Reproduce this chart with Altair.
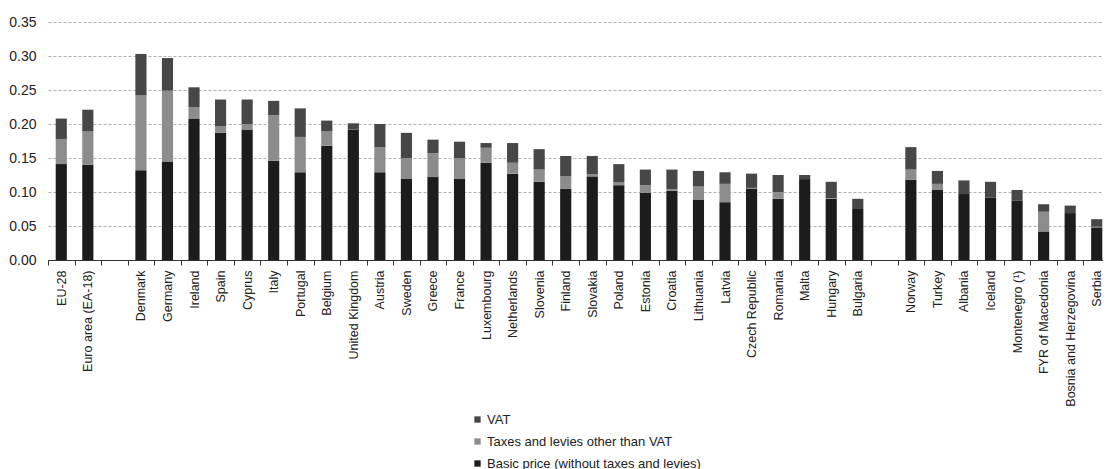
import altair as alt
import pandas as pd

countries = ["EU-28", "Euro area (EA-18)", " ",
             "Denmark", "Germany", "Ireland", "Spain", "Cyprus", "Italy", "Portugal",
             "Belgium", "United Kingdom", "Austria", "Sweden", "Greece", "France",
             "Luxembourg", "Netherlands", "Slovenia", "Finland", "Slovakia", "Poland",
             "Estonia", "Croatia", "Lithuania", "Latvia", "Czech Republic", "Romania",
             "Malta", "Hungary", "Bulgaria", "  ",
             "Norway", "Turkey", "Albania", "Iceland", "Montenegro (¹)",
             "FYR of Macedonia", "Bosnia and Herzegovina", "Serbia"]

# None = empty gap slot
basic = [0.141, 0.140, None,
         0.132, 0.144, 0.208, 0.187, 0.192, 0.146, 0.129,
         0.168, 0.192, 0.129, 0.120, 0.122, 0.120,
         0.143, 0.127, 0.115, 0.105, 0.123, 0.110,
         0.099, 0.102, 0.089, 0.085, 0.105, 0.090,
         0.119, 0.090, 0.075, None,
         0.118, 0.103, 0.097, 0.092, 0.087,
         0.042, 0.069, 0.048]
taxes = [0.037, 0.049, None,
         0.110, 0.105, 0.017, 0.010, 0.008, 0.067, 0.052,
         0.021, 0.000, 0.037, 0.030, 0.035, 0.030,
         0.022, 0.016, 0.018, 0.018, 0.003, 0.004,
         0.011, 0.002, 0.019, 0.027, 0.001, 0.010,
         0.000, 0.001, 0.000, None,
         0.015, 0.009, 0.000, 0.000, 0.000,
         0.029, 0.000, 0.001]
vat = [0.030, 0.032, None,
       0.061, 0.048, 0.029, 0.039, 0.036, 0.021, 0.042,
       0.016, 0.009, 0.034, 0.037, 0.020, 0.024,
       0.007, 0.029, 0.030, 0.030, 0.027, 0.027,
       0.023, 0.029, 0.023, 0.017, 0.021, 0.025,
       0.006, 0.024, 0.015, None,
       0.033, 0.019, 0.020, 0.023, 0.016,
       0.011, 0.011, 0.011]

series = ["VAT", "Taxes and levies other than VAT", "Basic price (without taxes and levies)"]
colors = ["#474747", "#8c8c8c", "#1c1c1c"]
y_ticks = [0.0, 0.05, 0.10, 0.15, 0.20, 0.25, 0.30, 0.35]

rows = []
for i, c in enumerate(countries):
    if basic[i] is None:
        continue
    rows.append({"country": c, "component": series[2], "value": basic[i], "ord": 0})
    rows.append({"country": c, "component": series[1], "value": taxes[i], "ord": 1})
    rows.append({"country": c, "component": series[0], "value": vat[i], "ord": 2})
df = pd.DataFrame(rows)

FONT = "Liberation Sans"

chart = alt.Chart(df).mark_bar(width=alt.RelativeBandSize(0.42)).encode(
    x=alt.X("country:N", sort=countries,
            scale=alt.Scale(domain=countries, paddingInner=0, paddingOuter=0, range=[0, 1062]),
            axis=alt.Axis(title=None, labelAngle=-90, labelAlign="right", labelBaseline="middle",
                          tickBand="extent", tickSize=5, labelPadding=5, domainColor="#333",
                          tickColor="#333", labelFontSize=12.5, labelColor="#222", labelFont=FONT,
                          grid=False)),
    y=alt.Y("value:Q", stack="zero",
            scale=alt.Scale(domain=[0, 0.35], nice=False),
            axis=alt.Axis(title=None, values=y_ticks, format=".2f", domain=False, ticks=False,
                          labelPadding=12, labelFontSize=14, labelColor="#222", labelFont=FONT,
                          grid=True, gridDash=[3, 2], gridColor="#b0b0b0")),
    color=alt.Color("component:N",
                    scale=alt.Scale(domain=series, range=colors),
                    legend=alt.Legend(title=None, orient="none", legendX=423, legendY=391,
                                      symbolType="square", symbolSize=40, symbolStrokeWidth=0,
                                      labelFontSize=13, labelFont=FONT, labelColor="#222",
                                      labelLimit=0, rowPadding=8, labelOffset=3, padding=0)),
    order=alt.Order("ord:Q", sort="ascending"),
).properties(
    width=1055, height=238,
    autosize=alt.AutoSizeParams(type="none"),
    padding={"left": 40, "top": 14, "right": 0, "bottom": 209},
).configure_view(stroke=None)

chart.save("out.html", embed_options={"renderer": "svg", "actions": False})
